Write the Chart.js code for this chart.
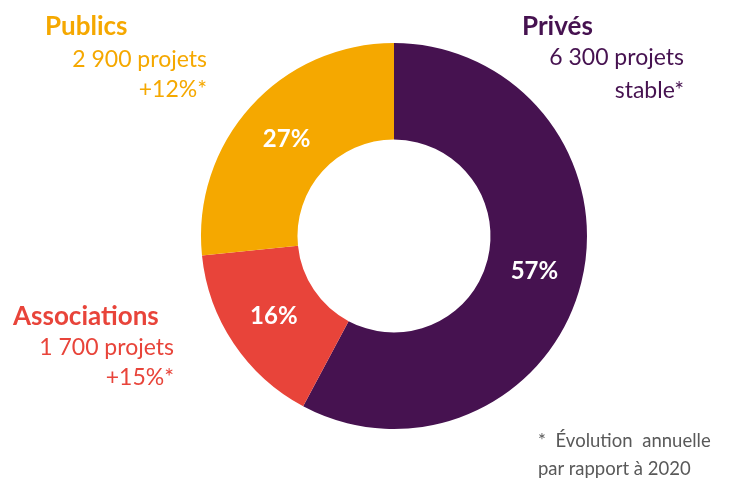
<!DOCTYPE html>
<html>
<head>
<meta charset="utf-8">
<script src="https://cdn.jsdelivr.net/npm/chart.js@4"></script>
<style>
    html, body { margin: 0; padding: 0; background: #fff; }
    #wrap { position: relative; width: 741px; height: 483px; overflow: hidden; font-family: Lato, "Open Sans", sans-serif; }
    #pie { position: absolute; left: 0; top: 0; }
    .lbl { position: absolute; white-space: nowrap; line-height: 1; }
    .t { font-weight: bold; font-size: 26px; }
    .s { font-size: 23px; }
    .r { text-align: right; }
    .note { font-size: 18.5px; color: #595959; }
</style>
</head>
<body>
<div id="wrap">
    <canvas id="pie" width="741" height="483"></canvas>

    <div class="lbl t" style="left:45px; top:12px; color:#f5a800;">Publics</div>
    <div class="lbl s r" style="right:534px; top:47px; color:#f5a800;">2 900 projets</div>
    <div class="lbl s r" style="right:534px; top:77px; color:#f5a800;">+12%*</div>

    <div class="lbl t" style="left:522px; top:12px; color:#461250;">Privés</div>
    <div class="lbl s r" style="right:57px; top:45px; color:#461250;">6 300 projets</div>
    <div class="lbl s r" style="right:57px; top:78px; color:#461250;">stable*</div>

    <div class="lbl t" style="left:13px; top:302px; color:#e8443a;">Associations</div>
    <div class="lbl s r" style="right:567px; top:335px; color:#e8443a;">1 700 projets</div>
    <div class="lbl s r" style="right:567px; top:365px; color:#e8443a;">+15%*</div>

    <div class="lbl note" style="left:538px; top:431px; word-spacing:5px;">* Évolution annuelle</div>
    <div class="lbl note" style="left:538px; top:459px;">par rapport à 2020</div>
</div>

<script>
// Data
const categories = ['Privés', 'Associations', 'Publics'];
const projects = [6300, 1700, 2900];
const shareLabels = ['57%', '16%', '27%'];
const colors = ['#461250', '#e8443a', '#f5a800'];

// draws the percentage in the middle of each ring slice
const pctLabels = {
    id: 'pctLabels',
    afterDatasetsDraw(chart) {
        const ctx = chart.ctx;
        const meta = chart.getDatasetMeta(0);
        ctx.save();
        ctx.fillStyle = '#ffffff';
        ctx.font = 'bold 24px Lato, "Open Sans", sans-serif';
        ctx.textAlign = 'center';
        ctx.textBaseline = 'middle';
        meta.data.forEach((arc, i) => {
            const p = arc.tooltipPosition();
            ctx.fillText(shareLabels[i], p.x, p.y);
        });
        ctx.restore();
    }
};

new Chart(document.getElementById('pie'), {
    type: 'doughnut',
    data: {
        labels: categories,
        datasets: [{
            data: projects,
            backgroundColor: colors,
            borderWidth: 0
        }]
    },
    options: {
        responsive: false,
        animation: false,
        cutout: '50%',
        layout: { padding: { left: 201, right: 154, top: 43, bottom: 54 } },
        plugins: {
            legend: { display: false },
            tooltip: { enabled: false }
        }
    },
    plugins: [pctLabels]
});
</script>
</body>
</html>
